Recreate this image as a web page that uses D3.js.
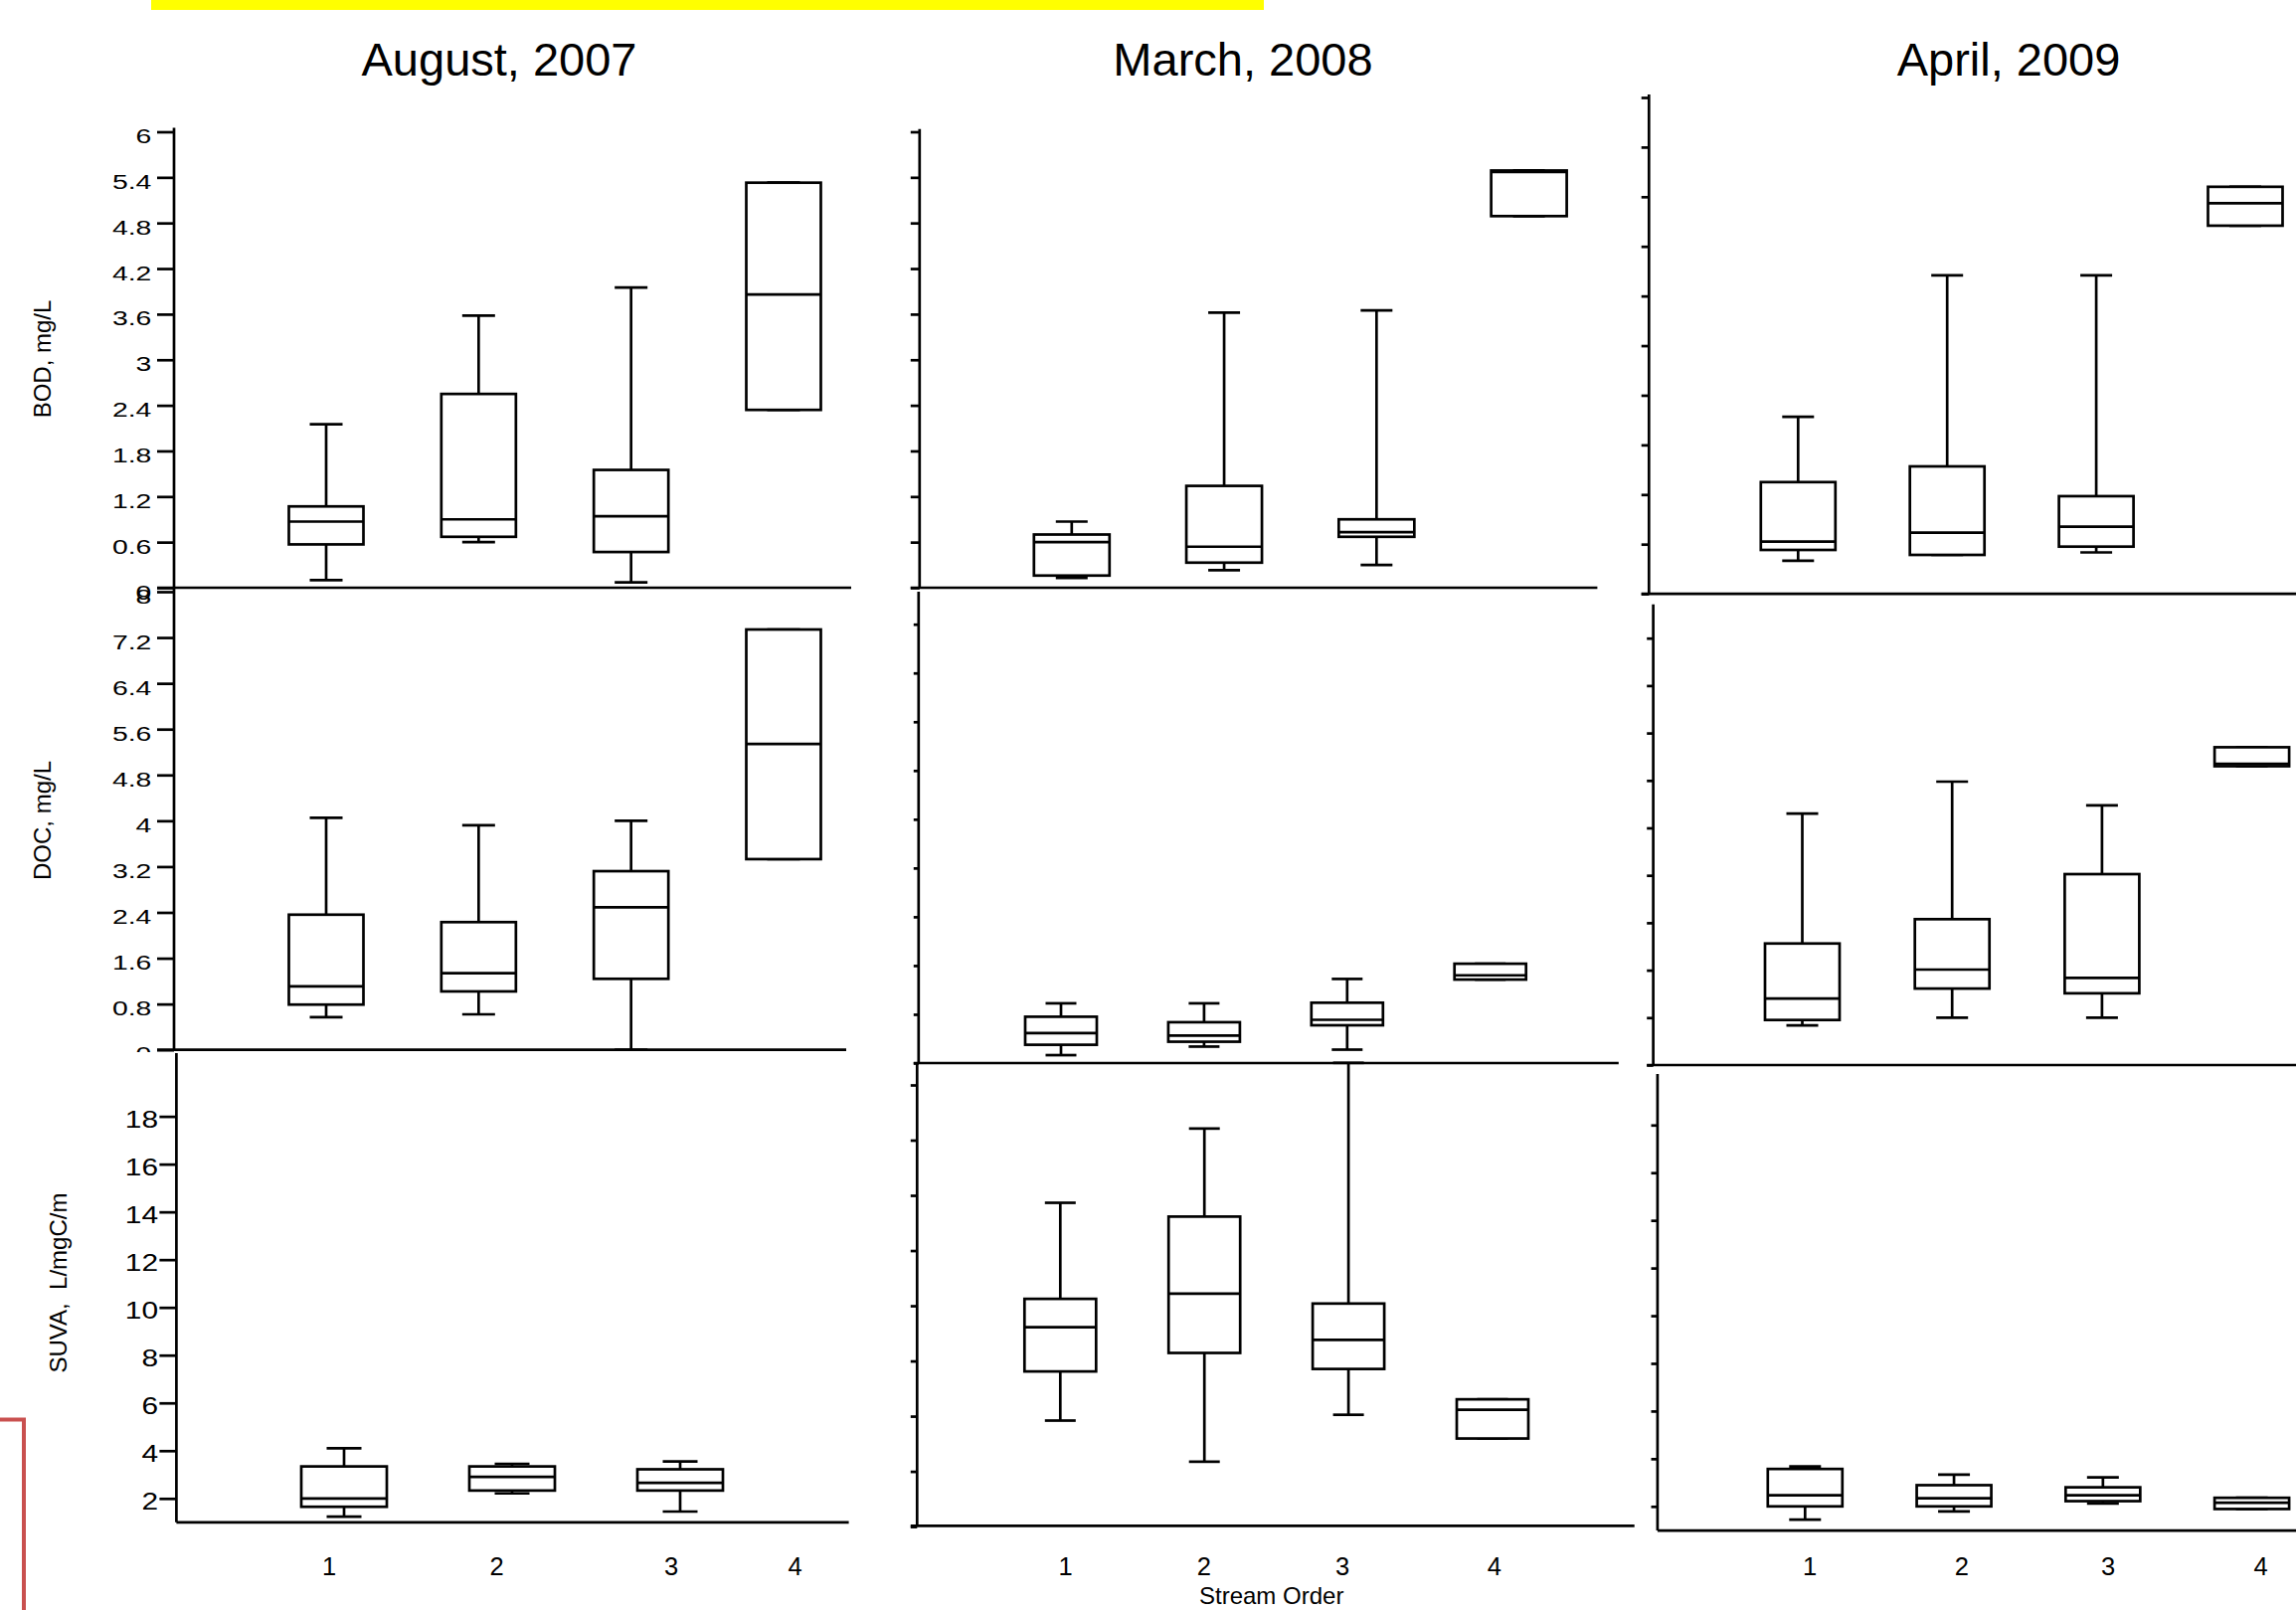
<!DOCTYPE html>
<html>
<head>
<meta charset="utf-8">
<script src="https://cdn.jsdelivr.net/npm/d3@7"></script>
<style>
  body { margin: 0; background: #fff; }
  svg { display: block; }
  text { font-family: 'Liberation Sans', Arial, Helvetica, sans-serif; fill: #000; }
</style>
</head>
<body>
<div id="chart"></div>
<script>
const streamOrders = [1, 2, 3, 4];
const monthTitles = ['August, 2007', 'March, 2008', 'April, 2009'];
const measureLabels = ['BOD, mg/L', 'DOC, mg/L', 'SUVA,  L/mgC/m'];

const bodTicks = [0, 0.6, 1.2, 1.8, 2.4, 3, 3.6, 4.2, 4.8, 5.4, 6];
const docTicks = [0, 0.8, 1.6, 2.4, 3.2, 4, 4.8, 5.6, 6.4, 7.2, 8];
const docTicksShort = [0, 0.8, 1.6, 2.4, 3.2, 4, 4.8, 5.6, 6.4, 7.2];
const suvaTicks = [2, 4, 6, 8, 10, 12, 14, 16, 18];
const suvaTicksMar = [0, 2, 4, 6, 8, 10, 12, 14, 16];

// one row per stream order: [low whisker, Q1, median, Q3, high whisker]
const bodAug07 = [[0.10, 0.57, 0.87, 1.07, 2.15], [0.60, 0.67, 0.90, 2.55, 3.58], [0.07, 0.47, 0.94, 1.55, 3.95], [2.34, 2.34, 3.86, 5.33, 5.33]];
const docAug07 = [[0.57, 0.79, 1.11, 2.36, 4.05], [0.62, 1.02, 1.34, 2.23, 3.92], [0.00, 1.24, 2.49, 3.12, 4.00], [3.33, 3.33, 5.34, 7.34, 7.34]];
const suvaAug07 = [[1.24, 1.65, 2.00, 3.34, 4.10], [2.21, 2.33, 2.90, 3.34, 3.45], [1.45, 2.33, 2.65, 3.22, 3.55]];

const bodMar08 = [[0.13, 0.16, 0.60, 0.70, 0.87], [0.23, 0.33, 0.54, 1.34, 3.62], [0.30, 0.67, 0.73, 0.90, 3.65], [4.89, 4.89, 5.47, 5.49, 5.49]];
const docMar08 = [[0.13, 0.30, 0.49, 0.76, 0.98], [0.27, 0.35, 0.45, 0.67, 0.98], [0.22, 0.62, 0.71, 0.99, 1.38], [1.37, 1.37, 1.44, 1.63, 1.63]];
const suvaMar08 = [[3.84, 5.62, 7.22, 8.25, 11.73], [2.35, 6.29, 8.44, 11.23, 14.42], [4.05, 5.71, 6.76, 8.08, 16.8], [3.19, 3.19, 4.23, 4.61, 4.61]];

const bodApr09 = [[0.40, 0.53, 0.63, 1.35, 2.14], [0.47, 0.47, 0.74, 1.54, 3.85], [0.50, 0.57, 0.81, 1.18, 3.85], [4.45, 4.45, 4.72, 4.92, 4.92]];
const docApr09 = [[0.67, 0.76, 1.12, 2.05, 4.24], [0.80, 1.29, 1.61, 2.46, 4.78], [0.80, 1.21, 1.47, 3.22, 4.38], [5.04, 5.04, 5.08, 5.36, 5.36]];
const suvaApr09 = [[1.44, 2.00, 2.47, 3.57, 3.68], [1.79, 2.00, 2.34, 2.89, 3.33], [2.12, 2.22, 2.47, 2.80, 3.22], [1.89, 1.89, 2.15, 2.36, 2.36]];

const width = 2309;
const height = 1619;
const stroke = 2.7;

// Where each pasted panel sits on the page
const panels = [
  {data: bodAug07, ticks: bodTicks, labels: true, dom: [0, 6], rng: [591, 132.5], axisX: 175, top: 128.5, base: 591, lineFrom: 158, lineTo: 856, tick: 17, xr: [328, 788], boxW: 75, capW: 33, fs: 21, sx: 1.35, labelRight: 152.3},
  {data: docAug07, ticks: docTicks, labels: true, dom: [0, 8], rng: [1055.7, 595], axisX: 175, top: 591, base: 1055.7, lineFrom: 158, lineTo: 851, tick: 17, xr: [328, 788], boxW: 75, capW: 33, fs: 21, sx: 1.35, labelRight: 152.3},
  {data: suvaAug07, ticks: suvaTicks, labels: true, dom: [2, 18], rng: [1506.8, 1122.6], axisX: 177.4, top: 1059, base: 1530.8, lineFrom: 177.4, lineTo: 853.6, tick: 17, xr: [346, 853], boxW: 86, capW: 35, fs: 23, sx: 1.3, labelRight: 159, sheet: [95, 1058, 780, 561]},
  {data: bodMar08, ticks: bodTicks, dom: [0, 6], rng: [591, 132.5], axisX: 924.8, top: 129.7, base: 591, lineFrom: 915.8, lineTo: 1606.4, tick: 9, xr: [1077.8, 1537.6], boxW: 76, capW: 32},
  {data: docMar08, ticks: docTicksShort, dom: [0, 7.2], rng: [1069, 627.7], axisX: 923.8, top: 595, base: 1069, lineFrom: 918.8, lineTo: 1627.8, tick: 5, xr: [1067, 1498.7], boxW: 72, capW: 31},
  {data: suvaMar08, ticks: suvaTicksMar, dom: [0, 16], rng: [1535.1, 1091], axisX: 922.3, top: 1069, base: 1534.4, lineFrom: 915.8, lineTo: 1643.7, tick: 6.5, xr: [1066.3, 1501], boxW: 72, capW: 31},
  {data: bodApr09, ticks: bodTicks, dom: [0, 6], rng: [597.1, 98], axisX: 1658.3, top: 94.9, base: 597.1, lineFrom: 1650.7, lineTo: 2309, tick: 7.6, xr: [1808.3, 2258], boxW: 75, capW: 32},
  {data: docApr09, ticks: docTicksShort, dom: [0, 7.2], rng: [1071, 641.7], axisX: 1662.6, top: 607.7, base: 1071, lineFrom: 1656.2, lineTo: 2309, tick: 6.4, xr: [1812.5, 2264.6], boxW: 75, capW: 32},
  {data: suvaApr09, ticks: suvaTicks, dom: [2, 18], rng: [1514.8, 1131.3], axisX: 1666.9, top: 1080, base: 1539.1, lineFrom: 1666.9, lineTo: 2309, tick: 6.4, xr: [1815.3, 2264.6], boxW: 75, capW: 32}
];

const titleX = [502, 1250, 2020];
const measureLabelPos = [[50.5, 361, 24], [50.5, 825, 24], [67, 1290, 24]];
const orderLabelX = [
  [331, 499.6, 675, 799.6],
  [1071.5, 1210.8, 1350.2, 1502.9],
  [1820, 1972.8, 2120, 2273.5]
];

const svg = d3.select('#chart')
  .append('svg')
    .attr('width', width)
    .attr('height', height)
    .attr('viewBox', `0 0 ${width} ${height}`);

svg.append('rect')
  .attr('width', width)
  .attr('height', height)
  .attr('fill', '#fff');

// yellow highlight strip and red frame corner
svg.append('rect')
  .attr('x', 152).attr('y', 0)
  .attr('width', 1119).attr('height', 10)
  .attr('fill', '#ffff00');
svg.append('path')
  .attr('d', 'M0,1427.4H24V1625')
  .attr('fill', 'none')
  .attr('stroke', '#c9504f')
  .attr('stroke-width', 4);

function drawPanel(p) {
  const g = svg.append('g');
  if (p.sheet) {
    g.append('rect')
      .attr('x', p.sheet[0]).attr('y', p.sheet[1])
      .attr('width', p.sheet[2]).attr('height', p.sheet[3])
      .attr('fill', '#fff');
  }
  const y = d3.scaleLinear().domain(p.dom).range(p.rng);
  const x = d3.scaleLinear().domain([1, 4]).range(p.xr);

  const axis = d3.axisLeft(y)
    .tickValues(p.ticks)
    .tickSize(p.tick)
    .tickFormat(p.labels ? d3.format('~g') : () => '');
  const ax = g.append('g')
    .attr('transform', `translate(${p.axisX},0)`)
    .call(axis);
  ax.select('.domain').remove();
  ax.selectAll('.tick line')
    .attr('stroke', '#000')
    .attr('stroke-width', stroke);
  if (p.labels) {
    ax.selectAll('.tick text')
      .attr('fill', '#000')
      .attr('font-size', p.fs)
      .attr('font-family', null)
      .attr('text-anchor', 'end')
      .attr('dy', null)
      .attr('y', 11)
      .attr('x', (p.labelRight - p.axisX) / p.sx)
      .attr('transform', `scale(${p.sx},1)`);
  } else {
    ax.selectAll('.tick text').remove();
  }

  // left axis and bottom line
  g.append('line')
    .attr('x1', p.axisX).attr('x2', p.axisX)
    .attr('y1', p.top).attr('y2', p.base)
    .attr('stroke', '#000').attr('stroke-width', stroke);
  g.append('line')
    .attr('x1', p.lineFrom).attr('x2', p.lineTo)
    .attr('y1', p.base).attr('y2', p.base)
    .attr('stroke', '#000').attr('stroke-width', stroke);

  const boxes = g.append('g')
      .attr('fill', 'none')
      .attr('stroke', '#000')
      .attr('stroke-width', stroke)
    .selectAll('g')
    .data(p.data)
    .enter().append('g');

  // whiskers
  boxes.append('line')
    .attr('x1', (d, i) => x(streamOrders[i])).attr('x2', (d, i) => x(streamOrders[i]))
    .attr('y1', (d) => y(d[3])).attr('y2', (d) => y(d[4]));
  boxes.append('line')
    .attr('x1', (d, i) => x(streamOrders[i])).attr('x2', (d, i) => x(streamOrders[i]))
    .attr('y1', (d) => y(d[1])).attr('y2', (d) => y(d[0]));
  [0, 4].forEach((k) => {
    boxes.append('line')
      .attr('x1', (d, i) => x(streamOrders[i]) - p.capW / 2)
      .attr('x2', (d, i) => x(streamOrders[i]) + p.capW / 2)
      .attr('y1', (d) => y(d[k])).attr('y2', (d) => y(d[k]));
  });
  boxes.append('rect')
    .attr('fill', '#fff')
    .attr('x', (d, i) => x(streamOrders[i]) - p.boxW / 2)
    .attr('width', p.boxW)
    .attr('y', (d) => y(d[3]))
    .attr('height', (d) => y(d[1]) - y(d[3]));
  boxes.append('line')
    .attr('x1', (d, i) => x(streamOrders[i]) - p.boxW / 2)
    .attr('x2', (d, i) => x(streamOrders[i]) + p.boxW / 2)
    .attr('y1', (d) => y(d[2])).attr('y2', (d) => y(d[2]));
}

panels.forEach(drawPanel);

// column titles
svg.append('g')
  .selectAll('text')
  .data(monthTitles)
  .enter().append('text')
    .attr('x', (d, i) => titleX[i])
    .attr('y', 76)
    .attr('text-anchor', 'middle')
    .attr('font-size', 47)
    .text((d) => d);

// measure labels, rotated
svg.append('g')
  .selectAll('text')
  .data(measureLabels)
  .enter().append('text')
    .attr('transform', (d, i) => `translate(${measureLabelPos[i][0]},${measureLabelPos[i][1]}) rotate(-90)`)
    .attr('text-anchor', 'middle')
    .attr('font-size', (d, i) => measureLabelPos[i][2])
    .attr('xml:space', 'preserve')
    .style('white-space', 'pre')
    .text((d) => d);

// stream order labels under the bottom row
orderLabelX.forEach((pos) => {
  const xl = d3.scaleLinear().domain(streamOrders).range(pos);
  svg.append('g')
    .selectAll('text')
    .data(streamOrders)
    .enter().append('text')
      .attr('x', (d) => xl(d))
      .attr('y', 1584)
      .attr('text-anchor', 'middle')
      .attr('font-size', 25.5)
      .text((d) => d);
});

svg.append('text')
  .attr('x', 1206)
  .attr('y', 1613)
  .attr('font-size', 24)
  .text('Stream Order');
</script>
</body>
</html>
